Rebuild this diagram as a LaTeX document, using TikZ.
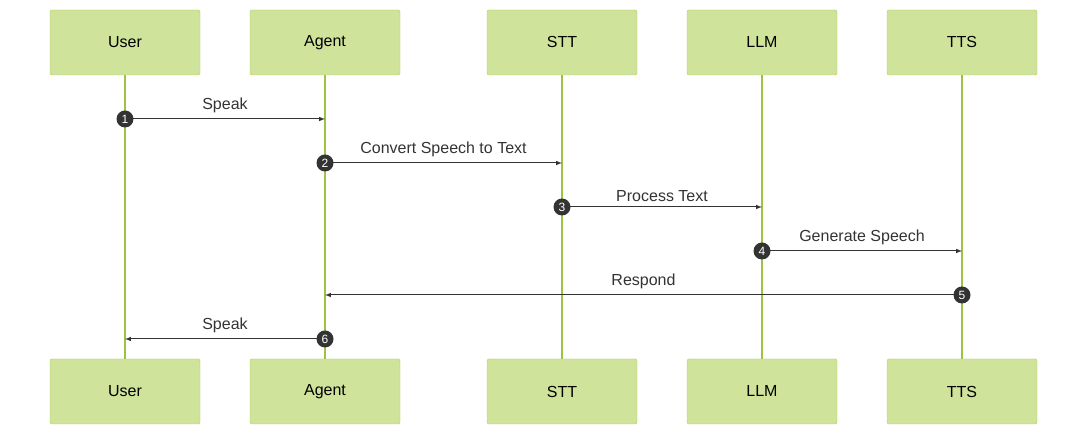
\documentclass[tikz,border=0pt]{standalone}
\usepackage{fontspec}
\setmainfont{Liberation Sans}
\definecolor{boxfill}{HTML}{D0E39A}
\definecolor{boxline}{HTML}{AECF55}
\definecolor{lifeline}{HTML}{9DC43F}
\definecolor{msg}{HTML}{333333}
\tikzset{>=latex,
  actor/.style={draw=boxline, fill=boxfill, minimum width=150pt, minimum height=65pt, rounded corners=1.5pt, font=\fontsize{16}{18}\selectfont},
  stepmark/.style={circle, fill=msg, text=white, inner sep=0pt, minimum size=17pt, font=\fontsize{12}{12}\selectfont},
  msglabel/.style={above, text=msg, font=\fontsize{16}{18}\selectfont, yshift=2pt}}
\begin{document}
\begin{tikzpicture}[x=1pt, y=1pt]
\useasboundingbox (0,0) rectangle (1087,435);
% actors, top and bottom
\foreach \n/\x/\t in {user/125/User, agent/325/Agent, stt/562/STT, llm/762/LLM, tts/962/TTS}{
\node[actor] (\n top) at (\x,392.5) {\t};
\node[actor] (\n bot) at (\x,43.5) {\t};
\draw[lifeline, line width=1.2pt] (\n top) -- (\n bot);
}
% messages
\foreach \i/\a/\b/\y/\t in {1/user/agent/316/Speak, 2/agent/stt/272/Convert Speech to Text, 3/stt/llm/228/Process Text, 4/llm/tts/184/Generate Speech, 5/tts/agent/140/Respond, 6/agent/user/96/Speak}{
\coordinate (s\i) at (\a top.south |- 0,\y);
\coordinate (e\i) at (\b top.south |- 0,\y);
\draw[->, msg, line width=1pt] (s\i) -- (e\i) node[midway, msglabel] {\t};
\node[stepmark] (n\i) at (s\i) {\i};
}
\end{tikzpicture}
\end{document}
